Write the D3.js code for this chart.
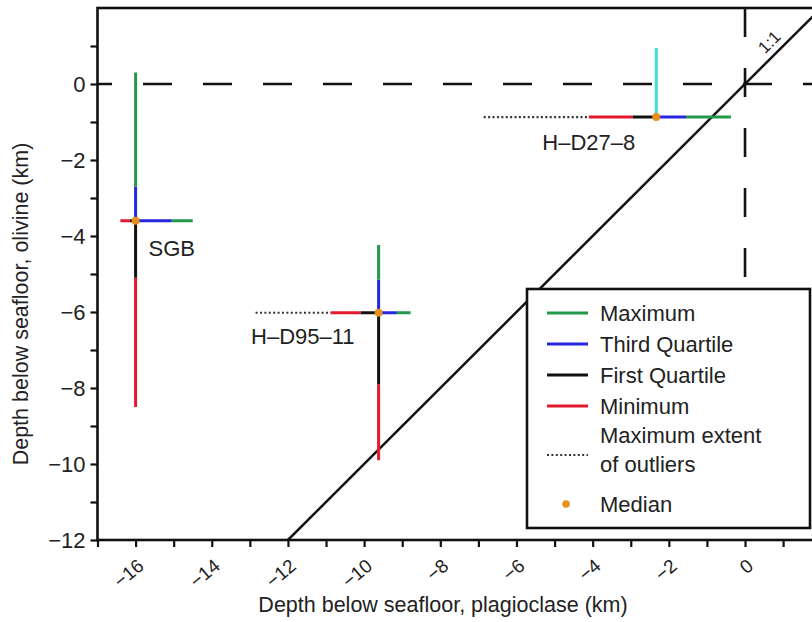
<!DOCTYPE html>
<html>
<head>
<meta charset="utf-8">
<script src="https://cdn.jsdelivr.net/npm/d3@7"></script>
<style>
  html, body { margin: 0; padding: 0; background: #fff; }
  svg { display: block; font-family: "Liberation Sans", Arial, Helvetica, sans-serif; }
</style>
</head>
<body>
<svg id="chart" width="812" height="622"></svg>
<script>
// ---- data (km) ----
const samples      = ["SGB", "H–D95–11", "H–D27–8"];
// plagioclase (x) distribution
const plagOutlier  = [null, -12.85, -6.86];
const plagMin      = [-16.4, -10.88, -4.1];
const plagQ1       = [-16.15, -10.09, -2.95];
const plagMedian   = [-16.0, -9.62, -2.33];
const plagQ3       = [-15.05, -9.14, -1.55];
const plagMax      = [-14.5, -8.78, -0.37];
// olivine (y) distribution
const olivMin      = [-8.5, -9.9, -0.87];
const olivQ1       = [-5.1, -7.9, -0.87];
const olivMedian   = [-3.6, -6.02, -0.87];
const olivQ3       = [-2.7, -5.15, -0.87];
const olivMax      = [0.3, -4.24, 0.95];

const xTickValues  = d3.range(-17, 2);
const yTickValues  = d3.range(-12, 2);
const legendItems  = ["Maximum", "Third Quartile", "First Quartile", "Minimum", "Maximum extent|of outliers", "Median"];
const oneToOne     = [-12, 2];

// ---- setup ----
const svg = d3.select("#chart");
const x = d3.scaleLinear().domain([-17, 2]).range([97.5, 821.2]);
const y = d3.scaleLinear().domain([-12, 2]).range([540, 8]);

const C = { max: "#22994a", q3: "#2626dd", q1: "#111111", min: "#e3182f", cyan: "#3fdcd4", med: "#e8901f", dot: "#333" };
const textColor = "#222";

svg.append("defs").append("clipPath").attr("id", "plotclip")
  .append("rect").attr("x", x(-17)).attr("y", y(2)).attr("width", x(2) - x(-17)).attr("height", y(-12) - y(2));

const plot = svg.append("g").attr("clip-path", "url(#plotclip)");

// reference dashed lines
plot.append("line")
  .attr("x1", x(-17)).attr("x2", x(2)).attr("y1", y(0)).attr("y2", y(0))
  .attr("stroke", "#111").attr("stroke-width", 2.6)
  .attr("stroke-dasharray", "29,31").attr("stroke-dashoffset", 14.5);
plot.append("line")
  .attr("x1", x(0)).attr("x2", x(0)).attr("y1", y(2)).attr("y2", y(-12))
  .attr("stroke", "#111").attr("stroke-width", 2.6)
  .attr("stroke-dasharray", "29,31");

// 1:1 line
plot.append("line")
  .attr("x1", x(oneToOne[0])).attr("y1", y(oneToOne[0]))
  .attr("x2", x(oneToOne[1])).attr("y2", y(oneToOne[1]))
  .attr("stroke", "#111").attr("stroke-width", 2.5);
svg.append("text")
  .attr("transform", `translate(${x(0.87) - 9},${y(0.87) - 9}) rotate(-45)`)
  .attr("text-anchor", "middle").attr("dy", "0.35em")
  .attr("font-size", 17).attr("fill", textColor).text("1:1");

// ---- sample crosses ----
const lw = 3;
samples.forEach((s, i) => {
  const cy = y(olivMedian[i]);
  const cx = x(plagMedian[i]);
  const g = plot.append("g");
  // outliers (dotted)
  if (plagOutlier[i] !== null) {
    g.append("line").attr("x1", x(plagOutlier[i])).attr("x2", x(plagMin[i]))
      .attr("y1", cy).attr("y2", cy)
      .attr("stroke", C.dot).attr("stroke-width", 2.2).attr("stroke-dasharray", "2,2.4");
  }
  // vertical (olivine)
  const degenerate = olivQ3[i] === olivMin[i];
  const vsegs = [
    [olivMin[i], olivQ1[i], C.min],
    [olivQ1[i], olivMedian[i], C.q1],
    [olivMedian[i], olivQ3[i], C.q3],
    [olivQ3[i], olivMax[i], degenerate ? C.cyan : C.max]
  ];
  vsegs.forEach(([a, b, col]) => {
    if (a === b) return;
    g.append("line").attr("x1", cx).attr("x2", cx).attr("y1", y(a)).attr("y2", y(b))
      .attr("stroke", col).attr("stroke-width", lw);
  });
  // horizontal (plagioclase)
  const hsegs = [
    [plagMin[i], plagQ1[i], C.min],
    [plagQ1[i], plagMedian[i], C.q1],
    [plagMedian[i], plagQ3[i], C.q3],
    [plagQ3[i], plagMax[i], C.max]
  ];
  hsegs.forEach(([a, b, col]) => {
    g.append("line").attr("x1", x(a)).attr("x2", x(b)).attr("y1", cy).attr("y2", cy)
      .attr("stroke", col).attr("stroke-width", lw);
  });
  g.append("circle").attr("cx", cx).attr("cy", cy).attr("r", 4).attr("fill", C.med);
});

// sample labels
const labelPos = [
  { dx: 13, dy: 35, anchor: "start" },
  { dx: -24, dy: 31, anchor: "end" },
  { dx: -21, dy: 33, anchor: "end" }
];
samples.forEach((s, i) => {
  svg.append("text")
    .attr("x", x(plagMedian[i]) + labelPos[i].dx)
    .attr("y", y(olivMedian[i]) + labelPos[i].dy)
    .attr("text-anchor", labelPos[i].anchor)
    .attr("font-size", 22).attr("fill", textColor).text(s);
});

// ---- axes ----
const fmt = v => (v % 2 === 0 ? (v < 0 ? "\u2212" + Math.abs(v) : String(v)) : "");
const yAxis = svg.append("g").attr("transform", `translate(${x(-17)},0)`)
  .call(d3.axisLeft(y).tickValues(yTickValues).tickFormat(fmt).tickSizeInner(7).tickSizeOuter(0).tickPadding(5));
yAxis.select(".domain").remove();
yAxis.selectAll(".tick line").attr("stroke", "#111").attr("stroke-width", 2.2);
yAxis.selectAll(".tick text").attr("font-size", 22).attr("fill", textColor).attr("font-family", null);

const xAxis = svg.append("g").attr("transform", `translate(0,${y(-12)})`)
  .call(d3.axisBottom(x).tickValues(xTickValues).tickFormat(fmt).tickSizeInner(7).tickSizeOuter(0));
xAxis.select(".domain").remove();
xAxis.selectAll(".tick line").attr("stroke", "#111").attr("stroke-width", 2.2);
xAxis.selectAll(".tick text")
  .attr("font-size", 19).attr("fill", textColor).attr("font-family", null)
  .attr("y", 0).attr("dy", 0)
  .attr("text-anchor", "end")
  .attr("transform", "translate(9,28) rotate(-40)");

// frame
svg.append("rect")
  .attr("x", x(-17)).attr("y", y(2)).attr("width", x(2) - x(-17)).attr("height", y(-12) - y(2))
  .attr("fill", "none").attr("stroke", "#111").attr("stroke-width", 2.6);

// axis titles
svg.append("text").attr("x", 443).attr("y", 612).attr("text-anchor", "middle")
  .attr("font-size", 21.5).attr("fill", textColor).text("Depth below seafloor, plagioclase (km)");
svg.append("text").attr("transform", `translate(28,${(y(2) + y(-12)) / 2 + 30}) rotate(-90)`)
  .attr("text-anchor", "middle")
  .attr("font-size", 21.5).attr("fill", textColor).text("Depth below seafloor, olivine (km)");

// ---- legend ----
const lg = svg.append("g");
lg.append("rect").attr("x", 527).attr("y", 289).attr("width", 283).attr("height", 239)
  .attr("fill", "#fff").attr("stroke", "#111").attr("stroke-width", 2.6);
const legendColors = [C.max, C.q3, C.q1, C.min];
const rowY = [313, 344, 375, 406];
legendColors.forEach((col, i) => {
  lg.append("line").attr("x1", 547).attr("x2", 588).attr("y1", rowY[i]).attr("y2", rowY[i])
    .attr("stroke", col).attr("stroke-width", 3);
  lg.append("text").attr("x", 600).attr("y", rowY[i] + 8).attr("font-size", 22)
    .attr("fill", textColor).text(legendItems[i]);
});
lg.append("line").attr("x1", 547).attr("x2", 588).attr("y1", 455).attr("y2", 455)
  .attr("stroke", C.dot).attr("stroke-width", 2.2).attr("stroke-dasharray", "2,2.4");
legendItems[4].split("|").forEach((t, k) => {
  lg.append("text").attr("x", 600).attr("y", 443 + k * 29).attr("font-size", 22)
    .attr("fill", textColor).text(t);
});
lg.append("circle").attr("cx", 566).attr("cy", 504).attr("r", 3.8).attr("fill", C.med);
lg.append("text").attr("x", 600).attr("y", 512).attr("font-size", 22)
  .attr("fill", textColor).text(legendItems[5]);
</script>
</body>
</html>
